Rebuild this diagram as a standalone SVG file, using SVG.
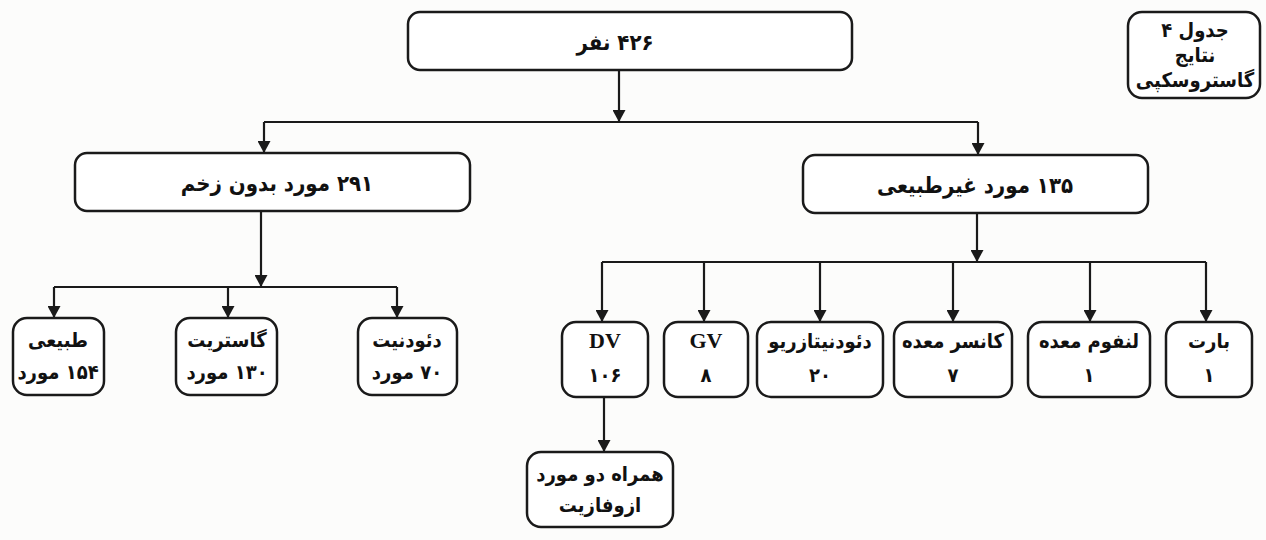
<svg xmlns="http://www.w3.org/2000/svg" width="1266" height="540" viewBox="0 0 1266 540">
<style>
.box{fill:#ffffff;stroke:#1a1a1a;stroke-width:2.5}
.ln{fill:none;stroke:#1a1a1a;stroke-width:2.2}
.fa{font-family:"DejaVu Sans Condensed","DejaVu Sans","Noto Sans",sans-serif;font-stretch:condensed;font-weight:bold;font-size:20px;fill:#111;text-anchor:middle;dominant-baseline:central}
.big{font-size:22px}
.lat{font-family:"Liberation Serif",serif;font-weight:bold;font-size:22px;fill:#111;text-anchor:middle;dominant-baseline:central}
</style>
<defs>
<marker id="ah" markerWidth="12" markerHeight="13" refX="12" refY="6.5" orient="auto" markerUnits="userSpaceOnUse">
<path d="M0,0 L12,6.5 L0,13 Z" fill="#1a1a1a"/>
</marker>
</defs>
<rect width="1266" height="540" fill="#fcfcfb"/>
<g id="connectors">
<path class="ln" d="M619,70 V122" marker-end="url(#ah)"/>
<path class="ln" d="M264,122 H978"/>
<path class="ln" d="M264,122 V153" marker-end="url(#ah)"/>
<path class="ln" d="M978,122 V155" marker-end="url(#ah)"/>
<path class="ln" d="M261,211 V287" marker-end="url(#ah)"/>
<path class="ln" d="M54,287 H397"/>
<path class="ln" d="M54,287 V318" marker-end="url(#ah)"/>
<path class="ln" d="M228,287 V318" marker-end="url(#ah)"/>
<path class="ln" d="M397,287 V318" marker-end="url(#ah)"/>
<path class="ln" d="M977,213 V262" marker-end="url(#ah)"/>
<path class="ln" d="M602,262 H1206"/>
<path class="ln" d="M602,262 V322" marker-end="url(#ah)"/>
<path class="ln" d="M704,262 V322" marker-end="url(#ah)"/>
<path class="ln" d="M820,262 V322" marker-end="url(#ah)"/>
<path class="ln" d="M953,262 V322" marker-end="url(#ah)"/>
<path class="ln" d="M1090,262 V322" marker-end="url(#ah)"/>
<path class="ln" d="M1206,262 V322" marker-end="url(#ah)"/>
<path class="ln" d="M604,397 V452" marker-end="url(#ah)"/>
</g>
<g id="n-total">
<rect class="box" x="408" y="12" width="444" height="58" rx="12"/>
<text class="fa big" x="615" y="42" direction="rtl">۴۲۶ نفر</text>
</g>
<g id="n-title">
<rect class="box" x="1128" y="12" width="132" height="86" rx="14"/>
<text class="fa" x="1195" y="30" direction="rtl">جدول ۴</text>
<text class="fa" x="1195" y="55" direction="rtl">نتایج</text>
<text class="fa" x="1195" y="80" direction="rtl">گاستروسکپی</text>
</g>
<g id="n-noulcer">
<rect class="box" x="75" y="153" width="395" height="58" rx="12"/>
<text class="fa big" x="277" y="183" direction="rtl">۲۹۱ مورد بدون زخم</text>
</g>
<g id="n-abnormal">
<rect class="box" x="803" y="155" width="345" height="58" rx="12"/>
<text class="fa big" x="975" y="185" direction="rtl">۱۳۵ مورد غیرطبیعی</text>
</g>
<g id="n-normal">
<rect class="box" x="13" y="318" width="91" height="77" rx="14"/>
<text class="fa" x="58" y="340" direction="rtl">طبیعی</text>
<text class="fa" x="58" y="372" direction="rtl">۱۵۴ مورد</text>
</g>
<g id="n-gastritis">
<rect class="box" x="176" y="318" width="101" height="77" rx="14"/>
<text class="fa" x="227" y="340" direction="rtl">گاستریت</text>
<text class="fa" x="227" y="372" direction="rtl">۱۳۰ مورد</text>
</g>
<g id="n-duodenitis">
<rect class="box" x="358" y="318" width="99" height="77" rx="14"/>
<text class="fa" x="407" y="340" direction="rtl">دئودنیت</text>
<text class="fa" x="407" y="372" direction="rtl">۷۰ مورد</text>
</g>
<g id="n-dv">
<rect class="box" x="562" y="322" width="86" height="75" rx="14"/>
<text class="lat" x="605" y="340">DV</text>
<text class="fa" x="605" y="375" direction="rtl">۱۰۶</text>
</g>
<g id="n-gv">
<rect class="box" x="664" y="322" width="84" height="75" rx="14"/>
<text class="lat" x="706" y="340">GV</text>
<text class="fa" x="706" y="375" direction="rtl">۸</text>
</g>
<g id="n-erosive">
<rect class="box" x="757" y="322" width="126" height="75" rx="14"/>
<text class="fa" x="820" y="341" direction="rtl">دئودنیتازریو</text>
<text class="fa" x="820" y="375" direction="rtl">۲۰</text>
</g>
<g id="n-cancer">
<rect class="box" x="894" y="322" width="118" height="75" rx="14"/>
<text class="fa" x="953" y="341" direction="rtl">کانسر معده</text>
<text class="fa" x="953" y="375" direction="rtl">۷</text>
</g>
<g id="n-lymphoma">
<rect class="box" x="1028" y="322" width="122" height="75" rx="14"/>
<text class="fa" x="1089" y="341" direction="rtl">لنفوم معده</text>
<text class="fa" x="1089" y="375" direction="rtl">۱</text>
</g>
<g id="n-barrett">
<rect class="box" x="1166" y="322" width="86" height="75" rx="14"/>
<text class="fa" x="1209" y="341" direction="rtl">بارت</text>
<text class="fa" x="1209" y="375" direction="rtl">۱</text>
</g>
<g id="n-esophagitis">
<rect class="box" x="527" y="452" width="146" height="75" rx="14"/>
<text class="fa" x="600" y="474" direction="rtl">همراه دو مورد</text>
<text class="fa" x="600" y="505" direction="rtl">ازوفازیت</text>
</g>
</svg>
